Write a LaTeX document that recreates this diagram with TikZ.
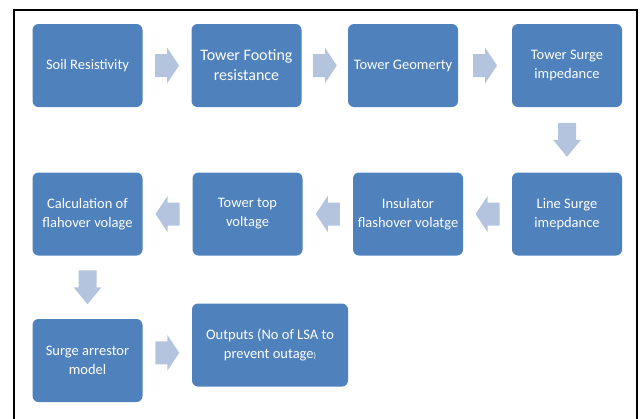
\documentclass[tikz,border=0pt]{standalone}
\usepackage{fontspec}
\setmainfont{Carlito}
\usetikzlibrary{calc}
\definecolor{boxblue}{HTML}{4F81BD}
\definecolor{arrowblue}{HTML}{B4C4DE}
\begin{document}
\begin{tikzpicture}[x=1pt,y=-1pt,
  box/.style={fill=boxblue, rounded corners=6pt, text=white, align=center,
    minimum width=110pt, minimum height=83pt, inner sep=2pt,
    font=\fontsize{14.5}{19}\selectfont},
  harrow/.pic={\fill[arrowblue] (-12,-11.5) -- (0,-11.5) -- (0,-18) -- (12,0)
    -- (0,18) -- (0,11.5) -- (-12,11.5) -- cycle;},
  varrow/.pic={\fill[arrowblue] (-9,-17) -- (9,-17) -- (9,0) -- (14,0)
    -- (0,17) -- (-14,0) -- (-9,0) -- cycle;}]
\useasboundingbox (0,0) rectangle (644,418);
\draw[line width=2.5pt] (14,422) -- (14,10) -- (637,10) -- (637,422);

\node[box] (soil) at (87.5,65.5) {Soil Resistivity};
\node[box, font=\fontsize{16}{20}\selectfont] (foot) at (246.5,65.5) {Tower Footing\\resistance};
\node[box] (geom) at (403,65.5) {Tower Geomerty};
\node[box] (tsi) at (567,65.5) {Tower Surge\\impedance};
\node[box] (lsi) at (567,214) {Line Surge\\imepdance};
\node[box] (ins) at (408,214) {Insulator\\flashover volatge};
\node[box] (ttv) at (247.5,214) {Tower top\\voltage};
\node[box] (calc) at (87.5,214) {Calculation of\\flahover volage};
\node[box] (sam) at (87.5,360.5) {Surge arrestor\\model};
\node[box, minimum width=156pt] (out) at (270,345) {Outputs (No of LSA to\\prevent outage{\footnotesize)}};

\pic at ($(soil.east)!0.5!(foot.west)$) {harrow};
\pic at ($(foot.east)!0.5!(geom.west)$) {harrow};
\pic at ($(geom.east)!0.5!(tsi.west)$) {harrow};
\pic at ($(tsi.south)!0.5!(lsi.north)$) {varrow};
\pic[rotate=180] at ($(lsi.west)!0.5!(ins.east)$) {harrow};
\pic[rotate=180] at ($(ins.west)!0.5!(ttv.east)$) {harrow};
\pic[rotate=180] at ($(ttv.west)!0.5!(calc.east)$) {harrow};
\pic at ($(calc.south)!0.5!(sam.north)$) {varrow};
\pic at ($(sam.east)!0.5!(out.west)$) {harrow};
\end{tikzpicture}
\end{document}
